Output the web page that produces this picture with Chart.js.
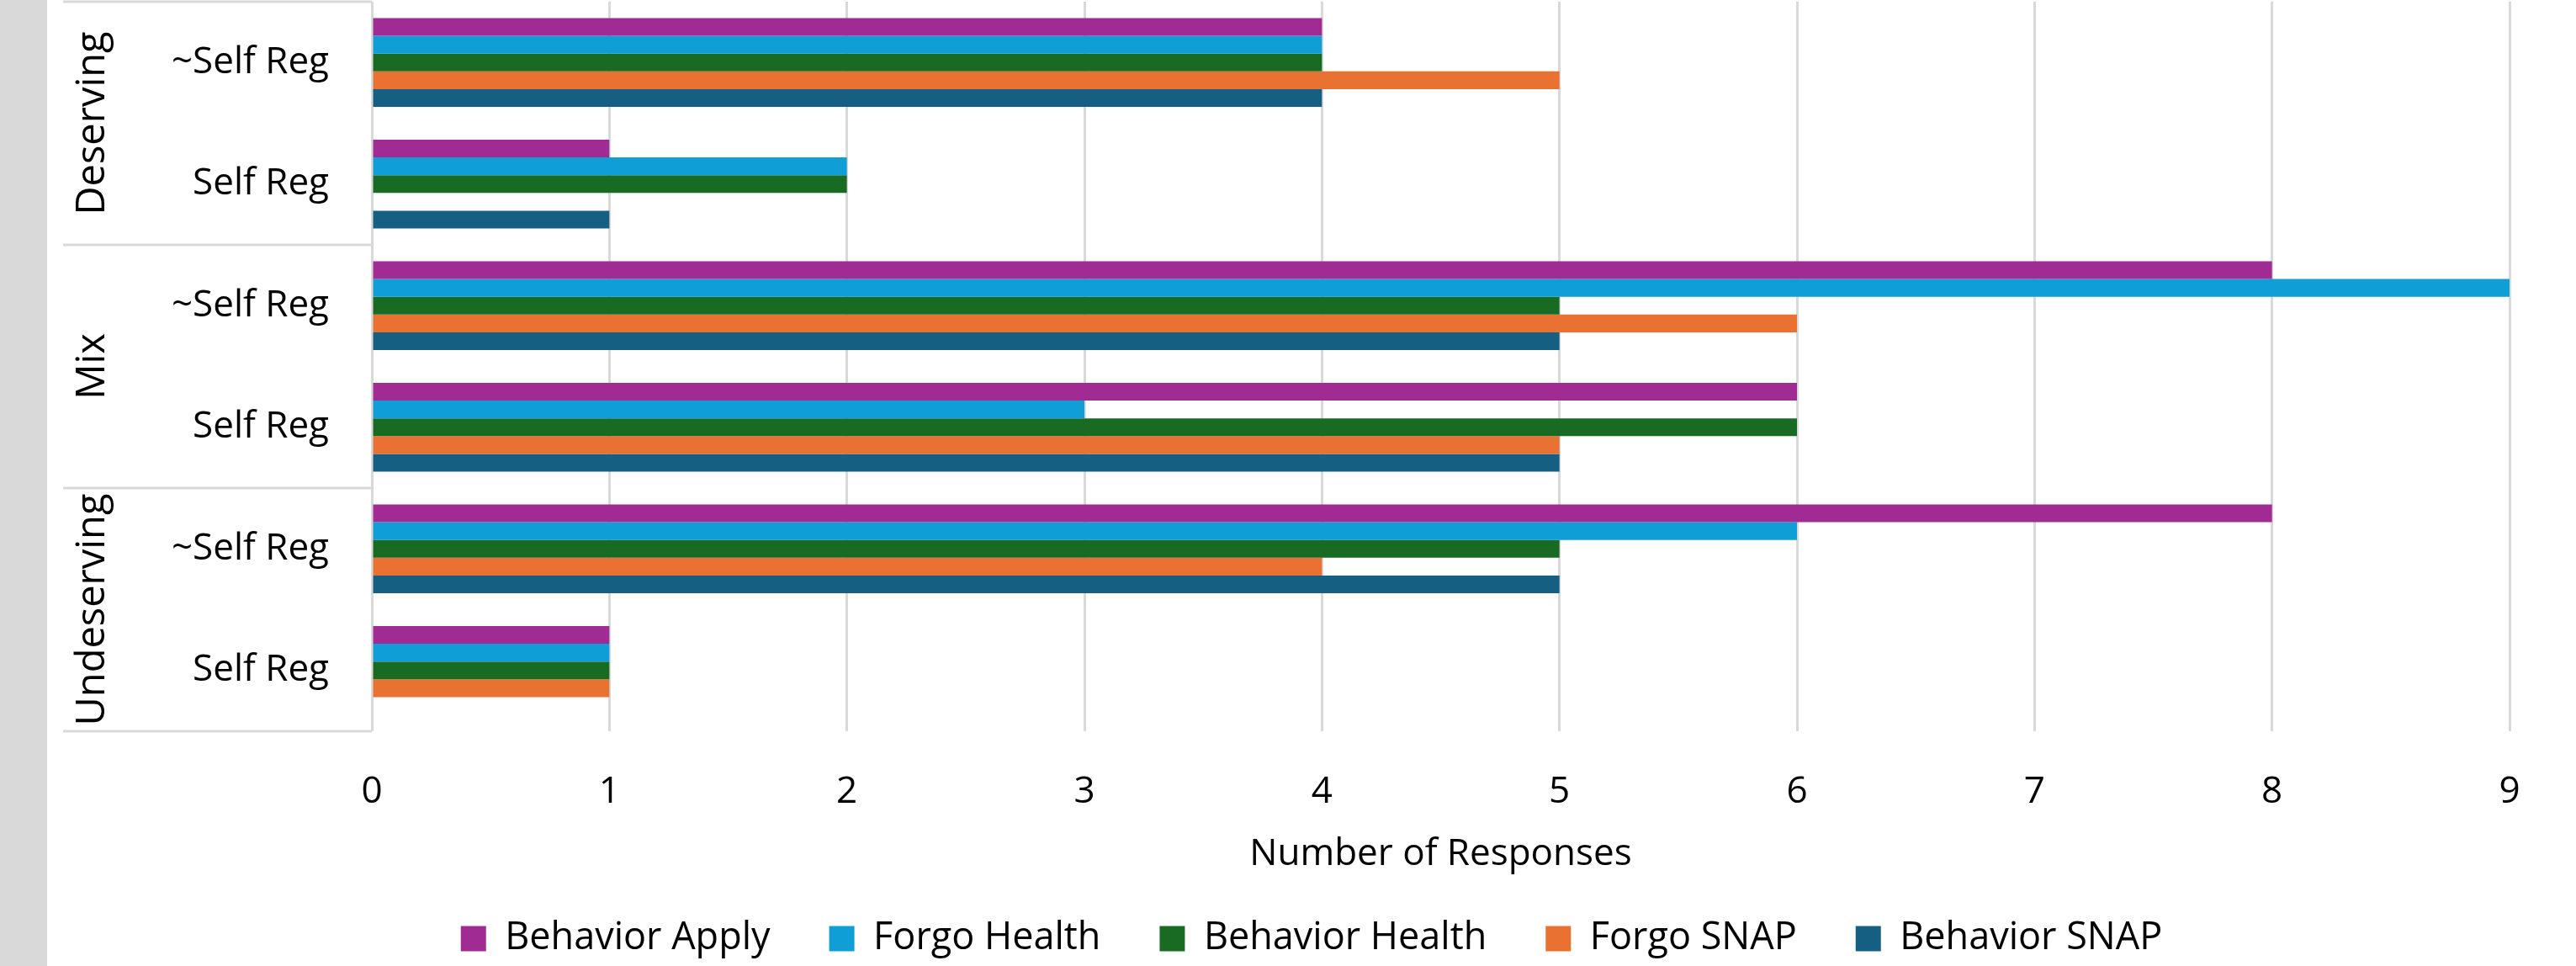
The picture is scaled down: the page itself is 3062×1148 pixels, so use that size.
<!DOCTYPE html>
<html>
<head>
<meta charset="utf-8">
<script src="https://cdn.jsdelivr.net/npm/chart.js@4/dist/chart.umd.min.js"></script>
<style>
	html, body { margin: 0; padding: 0; background: #d9d9d9; }
	#wrap { position: absolute; left: 56px; top: 0; width: 3006px; height: 1148px; background: #fff; }
</style>
</head>
<body>
<div id="wrap"><canvas id="chart" width="3006" height="1148"></canvas></div>
<script>
var groups = ['Deserving', 'Mix', 'Undeserving'];
var labels = ['~Self Reg', 'Self Reg', '~Self Reg', 'Self Reg', '~Self Reg', 'Self Reg'];

var behaviorApply = [4, 1, 8, 6, 8, 1];
var forgoHealth = [4, 2, 9, 3, 6, 1];
var behaviorHealth = [4, 2, 5, 6, 5, 1];
var forgoSnap = [5, 0, 6, 5, 4, 1];
var behaviorSnap = [4, 1, 5, 5, 5, 0];

var xTicks = [0, 1, 2, 3, 4, 5, 6, 7, 8, 9];

var gridColor = '#d9d9d9';
Chart.defaults.font.family = "'Open Sans', sans-serif";
Chart.defaults.font.size = 44;
Chart.defaults.color = '#000';

// group labels + box lines on the left of the category axis
var groupPlugin = {
	id: 'groupLabels',
	afterDraw: function (chart) {
		var ctx = chart.ctx,
			y = chart.scales.y,
			area = chart.chartArea,
			step = y.getPixelForValue(1) - y.getPixelForValue(0);
		ctx.save();
		ctx.strokeStyle = gridColor;
		ctx.lineWidth = 3;
		for (var g = 0; g <= groups.length; g++) {
			var yy = y.getPixelForValue(g * 2) - step / 2;
			ctx.beginPath();
			ctx.moveTo(19, yy);
			ctx.lineTo(area.left, yy);
			ctx.stroke();
		}
		ctx.fillStyle = '#000';
		ctx.font = "47px 'Open Sans', sans-serif";
		ctx.textAlign = 'center';
		ctx.textBaseline = 'middle';
		for (var i = 0; i < groups.length; i++) {
			var cy = (y.getPixelForValue(i * 2) + y.getPixelForValue(i * 2 + 1)) / 2;
			ctx.save();
			ctx.translate(55, cy);
			ctx.rotate(-Math.PI / 2);
			ctx.fillText(groups[i], 0, 0);
			ctx.restore();
		}
		ctx.restore();
	}
};

function makeSet(label, color, data) {
	return {
		label: label,
		data: data,
		backgroundColor: color,
		borderWidth: 0,
		categoryPercentage: 0.73,
		barPercentage: 1
	};
}

new Chart(document.getElementById('chart'), {
	type: 'bar',
	data: {
		labels: labels,
		datasets: [
			makeSet('Behavior Apply', '#a02b93', behaviorApply),
			makeSet('Forgo Health', '#0f9ed5', forgoHealth),
			makeSet('Behavior Health', '#196b24', behaviorHealth),
			makeSet('Forgo SNAP', '#e97132', forgoSnap),
			makeSet('Behavior SNAP', '#156082', behaviorSnap)
		]
	},
	options: {
		indexAxis: 'y',
		responsive: false,
		animation: false,
		layout: { padding: { top: 2, right: 0, left: 0, bottom: 0 } },
		scales: {
			x: {
				min: 0,
				max: 9,
				afterBuildTicks: function (scale) {
					scale.ticks = xTicks.map(function (v) { return { value: v }; });
				},
				afterFit: function (scale) { scale.height = 154; },
				grid: { color: gridColor, lineWidth: 3, drawTicks: false },
				border: { display: false },
				ticks: { padding: 46 },
				title: {
					display: true,
					text: 'Number of Responses',
					padding: 0,
					font: { size: 44, lineHeight: '16px' }
				}
			},
			y: {
				afterFit: function (scale) {
					scale.width = 386;
					scale.paddingTop = 0;
					scale.paddingBottom = 0;
				},
				grid: { display: false, drawTicks: false },
				border: { display: false },
				ticks: { padding: 51 }
			},
			y2: {
				type: 'linear',
				position: 'right',
				afterFit: function (scale) {
					scale.width = 79;
					scale.paddingTop = 0;
					scale.paddingBottom = 0;
				},
				grid: { display: false, drawTicks: false },
				border: { display: false },
				ticks: { display: false }
			}
		},
		plugins: {
			legend: {
				position: 'bottom',
				labels: { boxWidth: 30, boxHeight: 30, padding: 70, font: { size: 45 } }
			},
			tooltip: { enabled: false }
		}
	},
	plugins: [groupPlugin]
});
</script>
</body>
</html>
